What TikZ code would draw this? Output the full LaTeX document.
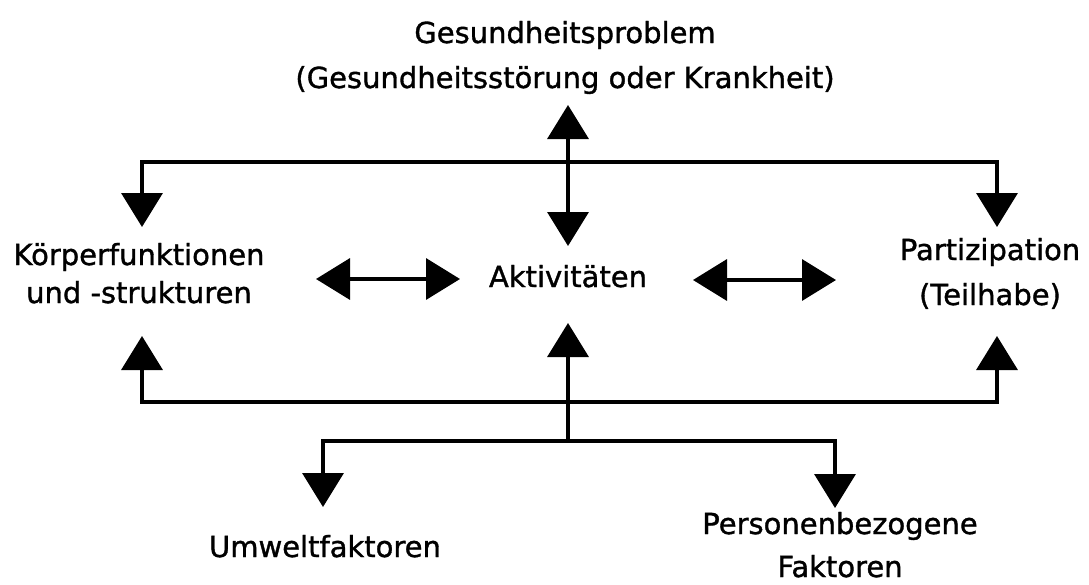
\documentclass[tikz,border=0pt]{standalone}
\usepackage{fontspec}
\setmainfont{DejaVu Sans}
\newfontface\lblfont[FakeBold=1.2]{DejaVu Sans}
\usetikzlibrary{arrows.meta}
\begin{document}
\begin{tikzpicture}[x=1pt,y=-1pt,
  lbl/.style={font=\lblfont\fontsize{29}{45}\selectfont, align=center, inner sep=0pt, anchor=base},
  conn/.style={line width=3.5pt, line join=miter},
  >={Triangle[length=34pt,width=41pt]}
]
\fill[white] (0,0) rectangle (1089,584);
\useasboundingbox (0,0) rectangle (1089,584);

% labels (base anchor = baseline of the last line)
\node[lbl] (gp) at (565,88) {Gesundheitsproblem\\(Gesundheitsstörung oder Krankheit)};
\node[lbl] (kf) at (139,303) {Körperfunktionen\\[-7pt]und -strukturen};
\node[lbl] (akt) at (568,287) {Aktivitäten};
\node[lbl] (par) at (990,305) {Partizipation\\(Teilhabe)};
\node[lbl] (umw) at (325,557) {Umweltfaktoren};
\node[lbl] (pers) at (840,577) {Personenbezogene\\[-2pt]Faktoren};

% connector points
\coordinate (gpTip) at (568,105);
\coordinate (aktTop) at (568,246);
\coordinate (kfTop) at (142,227);
\coordinate (parTop) at (997,227);
\coordinate (topL) at (142,162);
\coordinate (topR) at (997,162);
\coordinate (kfBot) at (142,336);
\coordinate (parBot) at (997,336);
\coordinate (botL) at (142,402);
\coordinate (botR) at (997,402);
\coordinate (aktBot) at (568,323);
\coordinate (hub) at (568,441);
\coordinate (umwTop) at (323,507);
\coordinate (persTop) at (835,508);
\coordinate (brL) at (323,441);
\coordinate (brR) at (835,441);
\coordinate (kfR) at (316,279);
\coordinate (aktL) at (460,279);
\coordinate (aktR) at (693,280);
\coordinate (parL) at (836,280);

% connectors
\draw[conn,<->] (kfTop) -- (topL) -- (topR) -- (parTop);
\draw[conn,<->] (gpTip) -- (aktTop);
\draw[conn,<->] (kfR) -- (aktL);
\draw[conn,<->] (aktR) -- (parL);
\draw[conn,<->] (kfBot) -- (botL) -- (botR) -- (parBot);
\draw[conn,->] (hub) -- (aktBot);
\draw[conn,<->] (umwTop) -- (brL) -- (brR) -- (persTop);
\end{tikzpicture}
\end{document}
